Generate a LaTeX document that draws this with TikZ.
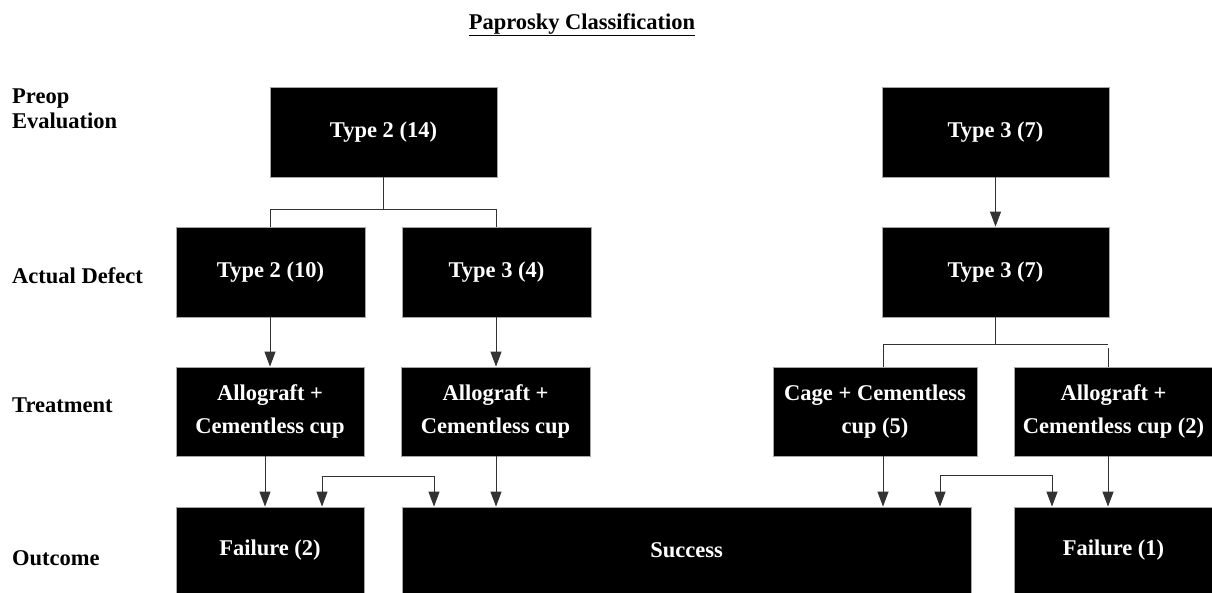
\documentclass[tikz,border=0pt]{standalone}
\usepackage{fontspec}
\setmainfont{Liberation Serif}
\usetikzlibrary{arrows.meta}
\begin{document}
\begin{tikzpicture}[x=1pt,y=-1pt,
  box/.style={rectangle, fill=black, draw=gray!70, line width=0.8pt, inner sep=0pt,
    text=white, align=center, font=\bfseries\fontsize{22.5}{33}\selectfont},
  lbl/.style={anchor=base west, align=left, inner sep=0pt, font=\bfseries\fontsize{22.5}{25}\selectfont},
  conn/.style={draw=black!80, line width=1pt},
  arr/.style={conn, -{Triangle[length=15pt,width=11pt]}}
]
\useasboundingbox (0,0) rectangle (1212,592);
% title
\node[font=\bfseries\fontsize{22.5}{25}\selectfont, inner sep=0pt, anchor=base] (title) at (582,29) {\underline{Paprosky Classification}};
% row labels
\node[lbl] (lpre) at (12,128) {Preop\\Evaluation};
\node[lbl] (lad) at (12,283) {Actual Defect};
\node[lbl] (ltr) at (12,412) {Treatment};
\node[lbl] (lout) at (12,565) {Outcome};
% row 1
\node[box, minimum width=227pt, minimum height=90pt] (a1) at (383.5,132) {Type 2 (14)};
\node[box, minimum width=227pt, minimum height=90pt] (a2) at (995.5,132) {\raisebox{3pt}{Type 3 (7)}};
% row 2
\node[box, minimum width=189pt, minimum height=90pt] (b1) at (270.5,272) {\raisebox{3pt}{Type 2 (10)}};
\node[box, minimum width=189pt, minimum height=90pt] (b2) at (496.5,272) {\raisebox{3pt}{Type 3 (4)}};
\node[box, minimum width=227pt, minimum height=90pt] (b3) at (995.5,272) {\raisebox{3pt}{Type 3 (7)}};
% row 3
\node[box, minimum width=188pt, minimum height=89pt] (c1) at (270,411.5) {Allograft +\\Cementless cup};
\node[box, minimum width=189pt, minimum height=89pt] (c2) at (495.5,411.5) {Allograft +\\Cementless cup};
\node[box, minimum width=204pt, minimum height=89pt] (c3) at (875,411.5) {Cage + Cementless\\cup (5)};
\node[box, minimum width=199pt, minimum height=89pt] (c4) at (1113.5,411.5) {Allograft +\\Cementless cup (2)};
% row 4
\node[box, minimum width=188pt, minimum height=86pt] (d1) at (270,550) {Failure (2)};
\node[box, minimum width=569pt, minimum height=86pt] (d2) at (686.5,550) {Success};
\node[box, minimum width=199pt, minimum height=86pt] (d3) at (1113.5,550) {\raisebox{2pt}{Failure (1)}};
% connectors row1 -> row2
\coordinate (j1) at (383.5,209);
\coordinate (j1l) at (270,209);
\coordinate (j1r) at (496,209);
\draw[conn] (a1.south) -- (j1);
\draw[conn] (j1l) -- (j1r);
\draw[conn] (j1l) -- (b1.north -| j1l);
\draw[conn] (j1r) -- (b2.north -| j1r);
\draw[arr] (a2.south) -- (b3.north);
% row2 -> row3
\coordinate (y1) at (270,0);
\coordinate (y2) at (496,0);
\draw[arr] (b1.south -| y1) -- (c1.north -| y1);
\draw[arr] (b2.south -| y2) -- (c2.north -| y2);
\coordinate (j2) at (995.5,344);
\coordinate (j2l) at (883,344);
\coordinate (j2r) at (1108,344);
\coordinate (j2r2) at (1108,348);
\draw[conn] (b3.south) -- (j2);
\draw[conn] (j2l) -- (j2r);
\draw[conn] (j2l) -- (c3.north -| j2l);
\draw[conn] (j2r2) -- (c4.north -| j2r2);
% row3 -> row4
\coordinate (x1) at (265,0);
\coordinate (x2) at (496,0);
\coordinate (x3) at (883,0);
\coordinate (x4) at (1108,0);
\draw[arr] (c1.south -| x1) -- (d1.north -| x1);
\draw[arr] (c2.south -| x2) -- (d2.north -| x2);
\draw[arr] (c3.south -| x3) -- (d2.north -| x3);
\draw[arr] (c4.south -| x4) -- (d3.north -| x4);
\coordinate (k1) at (322,476);
\coordinate (k2) at (434,476);
\coordinate (k3) at (940,475);
\coordinate (k4) at (1052,475);
\draw[arr] (k1) -- (d1.north -| k1);
\draw[arr] (k1) -- (k2) -- (d2.north -| k2);
\draw[arr] (k3) -- (d2.north -| k3);
\draw[arr] (k3) -- (k4) -- (d3.north -| k4);
\end{tikzpicture}
\end{document}
